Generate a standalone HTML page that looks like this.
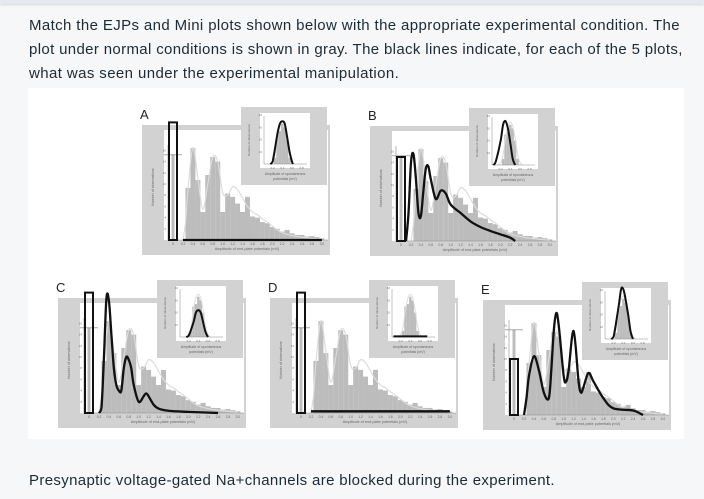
<!DOCTYPE html>
<html><head><meta charset="utf-8">
<style>
html,body{margin:0;padding:0;width:704px;height:499px;overflow:hidden;background:#f6f7f9;}
body{position:relative;font-family:"Liberation Sans",sans-serif;color:#1e2a33;}
.topbar{position:absolute;left:0;top:0;width:704px;height:4px;background:#e6e9ed;box-shadow:0 1px 2px #d5d9de;}
.q{position:absolute;left:29px;top:14px;width:690px;font-size:15px;line-height:24px;white-space:nowrap;}
.ans{position:absolute;left:29px;top:472px;font-size:15px;letter-spacing:0.35px;}
svg{position:absolute;left:0;top:0;}
</style></head><body>
<div class="topbar"></div>
<div class="q"><span style="letter-spacing:0.38px">Match the EJPs and Mini plots shown below with the appropriate experimental condition. The</span><br><span style="letter-spacing:0.35px">plot under normal conditions is shown in gray. The black lines indicate, for each of the 5 plots,</span><br><span style="letter-spacing:0.4px">what was seen under the experimental manipulation.</span></div>
<svg id="fig" width="704" height="499"></svg>
<div class="ans">Presynaptic voltage-gated Na+channels are blocked during the experiment.</div>
<script>
// ===== data =====
const ejpBins = [0.3,0.4,0.5,0.6,0.7,0.8,0.9,1.0,1.1,1.2,1.3,1.4,1.5,1.6,1.7,1.8,1.9,2.0,2.1,2.2,2.3,2.4,2.5,2.6,2.7,2.8,2.9,3.0];
const normalCounts = [9.3,16.4,10.7,5,11.6,14.8,14,5,8.3,7.7,6.5,5,7.7,4.2,4,3.2,3,2.3,2,1.5,1.8,1.2,0.9,0.9,0.6,0.7,0.5,0.3];
const normalFailures = 15.2;
const normalCurveX = [0.2,0.25,0.3,0.4,0.5,0.6,0.7,0.8,0.9,1.0,1.1,1.2,1.3,1.4,1.5,1.6,1.7,1.8,1.9,2.0,2.1,2.2,2.3,2.4,2.5,2.6,2.7,2.8,2.9,3.0];
const normalCurveY = [0,3,9,16.5,11,5.5,10,14.8,14,8.5,8,9.5,9,7.5,6,5,4.5,3.8,3.2,2.5,1.8,1.3,1,0.8,0.6,0.5,0.4,0.3,0.2,0.1];
const miniBins = [0.25,0.3,0.35,0.4,0.45,0.5,0.55];
const miniCounts = [5,25,27,33,30,20,5];
const miniCurveX = [0.15,0.2,0.25,0.3,0.35,0.4,0.45,0.5,0.55,0.6,0.65];
const miniCurveY = [0,2,8,22,32,35,32,22,9,2,0];
const panelLabels = ["A","B","C","D","E"];
const failures = [21,15,21.5,21.5,10];
const ejpAx = [0.2,3.0];
const ejpAy = [0,0];
const ejpBx = [0.1,0.15,0.2,0.25,0.3,0.35,0.4,0.45,0.5,0.55,0.6,0.7,0.8,0.9,1.0,1.2,1.4,1.6,1.8,2.0,2.2,2.3];
const ejpBy = [0,5,14,15.5,11,5,4.5,9,13,13.3,11,7.5,9,8.5,6.5,5,3.5,2.5,1.8,1.2,0.6,0];
const ejpCx = [0.2,0.25,0.3,0.35,0.4,0.45,0.5,0.55,0.6,0.65,0.7,0.75,0.8,0.85,0.9,1.0,1.1,1.15,1.2,1.3,1.4,1.6,2.0,2.6];
const ejpCy = [0,1,10,20.5,20,14,8,5,4,4,8,10,9.5,8,5,2,3,3.5,3,1.5,0.8,0.4,0.2,0];
const ejpDx = [0.2,3.0];
const ejpDy = [0.3,0.3];
const ejpEx = [0.2,0.25,0.3,0.4,0.5,0.6,0.7,0.75,0.8,0.85,0.9,1.0,1.05,1.1,1.2,1.3,1.35,1.4,1.5,1.6,1.8,2.0,2.4,2.6];
const ejpEy = [0,3,7,10.5,8,4,3,8,15,18.2,16,7,6,8,15,6,4,5,7.5,6,3,1.2,0.8,0];
const miniAx = [0.15,0.2,0.3,0.35,0.4,0.45,0.5,0.55,0.6,0.62];
const miniAy = [0,2,25,33,35,33,22,10,2,0];
const miniBx = [0.05,0.1,0.2,0.25,0.3,0.35,0.4,0.45,0.5];
const miniBy = [0,3,20,33,36,30,18,5,0];
const miniCx = [0.15,0.2,0.3,0.35,0.4,0.45,0.5,0.55,0.6];
const miniCy = [0,1,12,20,22,20,12,4,0];
const miniDx = [0.05,0.75];
const miniDy = [0.5,0.5];
const miniEx = [0.15,0.2,0.3,0.35,0.38,0.42,0.5,0.55,0.6];
const miniEy = [0,2,26,40,42,38,20,6,0];
const ejpBlackX = [ejpAx,ejpBx,ejpCx,ejpDx,ejpEx];
const ejpBlackY = [ejpAy,ejpBy,ejpCy,ejpDy,ejpEy];
const miniBlackX = [miniAx,miniBx,miniCx,miniDx,miniEx];
const miniBlackY = [miniAy,miniBy,miniCy,miniDy,miniEy];
const panelOrigins = [[142,125],[370,126],[58,298],[270,298],[483,300]];

// ===== drawing =====
const NS="http://www.w3.org/2000/svg";
const svg=document.getElementById('fig');
function mk(tag,attrs,parent){const e=document.createElementNS(NS,tag);for(const k in attrs)e.setAttribute(k,attrs[k]);(parent||svg).appendChild(e);return e;}
function smooth(pts,base){
  if(pts.length<3)return "M"+pts.map(p=>p.join(",")).join("L");
  let d="M"+pts[0][0]+","+pts[0][1];
  const cl=y=>Math.min(y,base);
  for(let i=0;i<pts.length-1;i++){
    const p0=pts[Math.max(0,i-1)],p1=pts[i],p2=pts[i+1],p3=pts[Math.min(pts.length-1,i+2)];
    const c1=[p1[0]+(p2[0]-p0[0])/6,cl(p1[1]+(p2[1]-p0[1])/6)];
    const c2=[p2[0]-(p3[0]-p1[0])/6,cl(p2[1]-(p3[1]-p1[1])/6)];
    d+="C"+c1.join(",")+" "+c2.join(",")+" "+p2.join(",");
  }
  return d;
}
const bgw=mk('rect',{x:28,y:88,width:656,height:351,fill:'#ffffff'});



panelOrigins.forEach((o,i)=>{
  const px=o[0],py=o[1];
  const g=mk('g',{});
  
  
  const lab=mk('text',{x:px-2,y:py-6,'font-size':13,fill:'#222','font-family':'Liberation Sans, sans-serif'},g);
  lab.textContent=panelLabels[i];
  
  
  mk('rect',{x:px,y:py,width:188,height:130,fill:'#d2d2d2'},g);
  mk('rect',{x:px+22,y:py+5,width:164,height:110,fill:'#fff'},g);
  const xs=v=>px+41+(v-0.2)*49.6;
  const ys=v=>py+115-v*5.6;
  const zx=px+31;
  ejpBins.forEach((b,j)=>{
    const bar=mk('rect',{x:xs(b)-2.5,y:ys(normalCounts[j]),width:5,height:normalCounts[j]*5.6,fill:'#bcbcbc'},g);
    
    
  });
  const fb=mk('rect',{x:zx-1.5,y:ys(normalFailures),width:3,height:normalFailures*5.6,fill:'#bcbcbc'},g);
  
  
  mk('line',{x1:zx-9,y1:ys(normalFailures),x2:zx+9,y2:ys(normalFailures),stroke:'#555','stroke-width':0.6},g);
  const nc=mk('path',{d:smooth(normalCurveX.map((x,j)=>[xs(x),ys(normalCurveY[j])]),py+115),fill:'none',stroke:'#dcdcdc','stroke-width':1.2},g);
  
  
  mk('line',{x1:px+26,y1:py+115,x2:px+186,y2:py+115,stroke:'#888','stroke-width':0.6},g);
  mk('line',{x1:px+26,y1:py+20,x2:px+26,y2:py+115,stroke:'#888','stroke-width':0.6},g);
  for(let t=2;t<=16;t+=2){const tt=mk('text',{x:px+24,y:ys(t)+1,'font-size':3,fill:'#777','text-anchor':'end'},g);tt.textContent=t;}
  const z=mk('text',{x:zx,y:py+120,'font-size':3.5,fill:'#666','text-anchor':'middle'},g);z.textContent="0";
  for(let t=2;t<=30;t+=2){const tt=mk('text',{x:xs(t/10),y:py+120,'font-size':3.3,fill:'#666','text-anchor':'middle'},g);tt.textContent=(t/10).toFixed(1);}
  const xt=mk('text',{x:px+105,y:py+125,'font-size':3.8,fill:'#666','text-anchor':'middle'},g);xt.textContent="Amplitude of end-plate potentials (mV)";
  
  const yt=mk('text',{x:0,y:0,'font-size':3.5,fill:'#666','text-anchor':'middle',transform:`translate(${px+12},${py+62}) rotate(-90)`},g);yt.textContent="Number of observations";
  
  const fbx=mk('rect',{x:zx-4,y:ys(failures[i]),width:8,height:failures[i]*5.6,fill:'none',stroke:'#111','stroke-width':2},g);
  
  
  const bl=mk('path',{d:smooth(ejpBlackX[i].map((x,j)=>[xs(x),ys(ejpBlackY[i][j])]),py+115),fill:'none',stroke:'#111','stroke-width':2.3,'stroke-linejoin':'round'},g);
  
  
  const ig=mk('g',{},g);
  
  
  mk('rect',{x:px+99,y:py-18,width:86,height:78,fill:'#d2d2d2'},ig);
  mk('rect',{x:px+118,y:py-12,width:50,height:55,fill:'#fff'},ig);
  const ixs=v=>px+121+v*48.3;
  const iys=v=>py+39-v*1.22;
  miniBins.forEach((b,j)=>{
    const bar=mk('rect',{x:ixs(b)-1.2,y:iys(miniCounts[j]),width:2.4,height:miniCounts[j]*1.22,fill:'#bcbcbc'},ig);
    
    
  });
  mk('path',{d:smooth(miniCurveX.map((x,j)=>[ixs(x),iys(miniCurveY[j])]),py+39),fill:'none',stroke:'#dcdcdc','stroke-width':1},ig);
  mk('line',{x1:px+122,y1:py+39,x2:px+165,y2:py+39,stroke:'#888','stroke-width':0.5},ig);
  mk('line',{x1:px+122,y1:py-9,x2:px+122,y2:py+39,stroke:'#888','stroke-width':0.5},ig);
  [10,20,30,40].forEach(t=>{const tt=mk('text',{x:px+120,y:iys(t)+1,'font-size':3,fill:'#777','text-anchor':'end'},ig);tt.textContent=t;});
  [0.2,0.4,0.6,0.8].forEach(t=>{const tt=mk('text',{x:ixs(t),y:py+44,'font-size':3,fill:'#777','text-anchor':'middle'},ig);tt.textContent=t.toFixed(1);});
  const it1=mk('text',{x:px+143,y:py+50,'font-size':3.5,fill:'#666','text-anchor':'middle'},ig);it1.textContent="Amplitude of spontaneous";
  const it2=mk('text',{x:px+143,y:py+55,'font-size':3.5,fill:'#666','text-anchor':'middle'},ig);it2.textContent="potentials (mV)";
  const iyt=mk('text',{x:0,y:0,'font-size':3,fill:'#666','text-anchor':'middle',transform:`translate(${px+108},${py+15}) rotate(-90)`},ig);iyt.textContent="Number of observations";
  const ml=mk('path',{d:smooth(miniBlackX[i].map((x,j)=>[ixs(x),iys(miniBlackY[i][j])]),py+39),fill:'none',stroke:'#111','stroke-width':2,'stroke-linejoin':'round'},ig);
  
  
});
</script>
</body></html>
